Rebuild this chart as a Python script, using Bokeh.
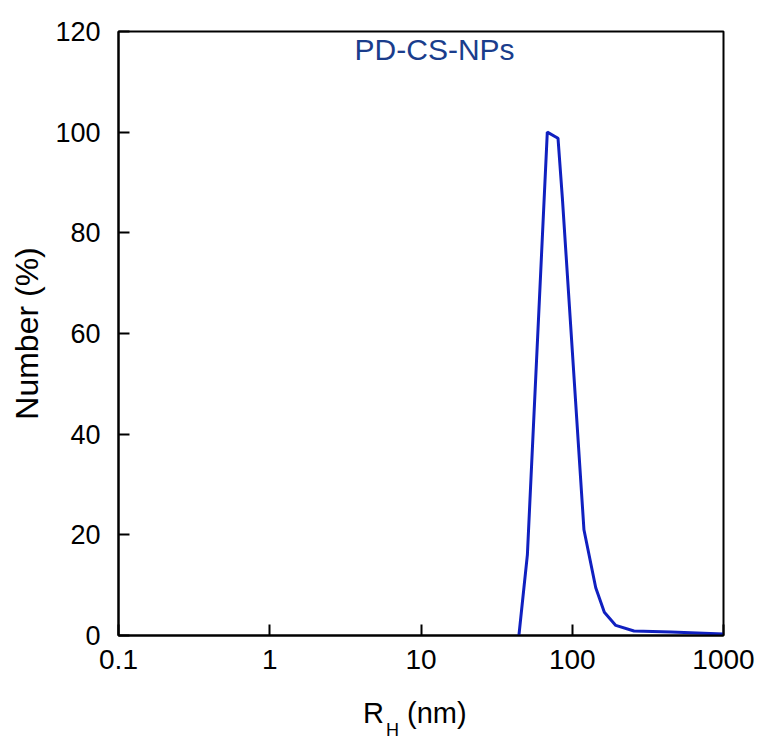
from bokeh.plotting import figure
from bokeh.models import FixedTicker, CustomJSTickFormatter, Label, Range1d, Div
from bokeh.layouts import column
from bokeh.embed import file_html
from bokeh.resources import INLINE

# Data
radius_nm = [44.4, 50.5, 68.4, 80.5, 86, 119.5, 143, 163, 194, 256, 450, 1000]
number_pct = [0, 16, 100, 98.8, 87, 21, 9.5, 4.6, 2.0, 0.9, 0.7, 0.3]
x_ticks = [0.1, 1, 10, 100, 1000]
y_ticks = [0, 20, 40, 60, 80, 100, 120]
series_name = "PD-CS-NPs"
x_label_main = "R"
x_label_sub = "H"
x_label_unit = "(nm)"
y_label = "Number (%)"

FONT = "Liberation Sans"
LINE_COLOR = "#1020c0"
TITLE_COLOR = "#1a3d8c"

p = figure(
    x_axis_type="log",
    x_range=Range1d(0.1, 1000),
    y_range=Range1d(0, 120),
    frame_width=605,
    frame_height=604,
    min_border_left=118,
    min_border_right=37,
    min_border_top=31,
    min_border_bottom=45,
    output_backend="svg",
    toolbar_location=None,
)

p.line(radius_nm, number_pct, line_color=LINE_COLOR, line_width=3)

p.xgrid.visible = False
p.ygrid.visible = False
p.outline_line_color = "black"
p.outline_line_width = 2
p.background_fill_color = "white"
p.border_fill_color = "white"

for ax in (p.xaxis[0], p.yaxis[0]):
    ax.axis_line_width = 2
    ax.axis_line_color = "black"
    ax.major_tick_in = 11
    ax.major_tick_out = 0
    ax.major_tick_line_width = 2
    ax.minor_tick_in = 0
    ax.minor_tick_out = 0
    ax.major_label_text_font = FONT
    ax.major_label_text_font_size = "27px"
    ax.major_label_text_color = "black"
    ax.axis_label_text_font = FONT
    ax.axis_label_text_font_style = "normal"
    ax.axis_label_text_font_size = "32px"
    ax.axis_label_text_color = "black"

p.xaxis[0].ticker = FixedTicker(ticks=x_ticks, minor_ticks=[])
p.xaxis[0].formatter = CustomJSTickFormatter(code="return tick.toString();")
p.xaxis[0].major_label_text_font_size = "28px"
p.xaxis[0].major_label_standoff = 14

p.yaxis[0].ticker = FixedTicker(ticks=y_ticks, minor_ticks=[])
p.yaxis[0].major_label_standoff = 18
p.yaxis[0].axis_label = y_label
p.yaxis[0].axis_label_standoff = 7

# Series title inside the plot
p.add_layout(Label(x=12.3, y=116.5, text=series_name, text_font=FONT,
                   text_font_size="30px", text_color=TITLE_COLOR,
                   text_align="center", text_baseline="middle"))

# X axis label with subscript, as real HTML text below the figure
xlabel_html = (
    '<div style="font-family:\'Liberation Sans\',Arial,sans-serif; font-size:29px; '
    'color:black; margin-left:363px; margin-top:17px; white-space:nowrap; line-height:normal">'
    f'{x_label_main}<span style="font-size:18px; vertical-align:-13px; margin-left:2px">'
    f'{x_label_sub}</span> {x_label_unit}</div>'
)
xlabel = Div(text=xlabel_html, width=760, height=62, margin=0)

layout = column(p, xlabel, spacing=0)

open("out.html", "w").write(file_html(layout, INLINE))
